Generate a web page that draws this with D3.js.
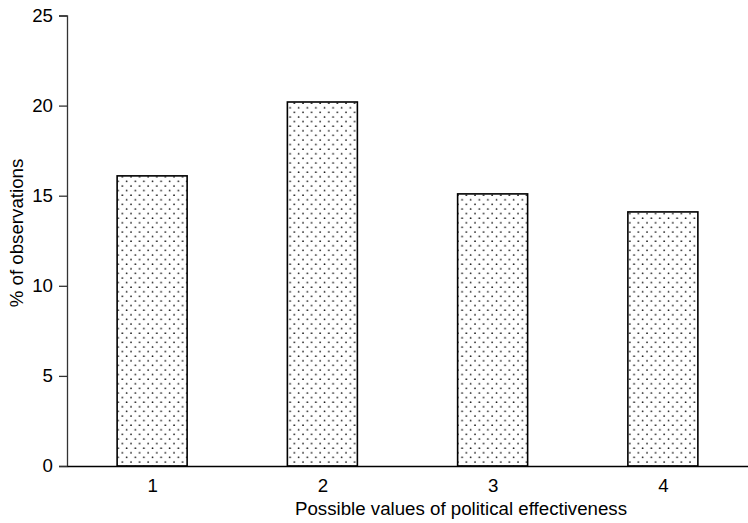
<!DOCTYPE html>
<html>
<head>
<meta charset="utf-8">
<script src="https://cdn.jsdelivr.net/npm/d3@7"></script>
<style>
  body { margin: 0; background: #fff; }
  text { font-family: "Liberation Sans", Arial, sans-serif; fill: #000; }
</style>
</head>
<body>
<div id="chart"></div>
<script>
// values
const categories = [1, 2, 3, 4];
const percents = [16.1, 20.2, 15.1, 14.1];
const yTicks = [0, 5, 10, 15, 20, 25];

const width = 748, height = 523;
const margin = { top: 15.5, right: 0, bottom: 57, left: 67 };
const fontSize = "18.7px";

const svg = d3.select("#chart").append("svg")
  .attr("width", width)
  .attr("height", height);

// dotted fill
const pat = svg.append("defs").append("pattern")
  .attr("id", "dots")
  .attr("patternUnits", "userSpaceOnUse")
  .attr("width", 8.6)
  .attr("height", 9.2);
pat.append("rect").attr("width", 8.6).attr("height", 9.2).attr("fill", "#fff");
pat.append("circle").attr("cx", 2).attr("cy", 2).attr("r", 0.85).attr("fill", "#111");
pat.append("circle").attr("cx", 6.3).attr("cy", 6.6).attr("r", 0.85).attr("fill", "#111");

const x = d3.scalePoint()
  .domain(categories)
  .range([margin.left, width - margin.right])
  .padding(0.5);

const y = d3.scaleLinear()
  .domain([0, 25])
  .range([height - margin.bottom, margin.top]);

const barWidth = 70;

// bars
svg.append("g")
  .selectAll("rect")
  .data(categories)
  .join("rect")
  .attr("x", d => x(d) - barWidth / 2)
  .attr("y", (d, i) => y(percents[i]))
  .attr("width", barWidth)
  .attr("height", (d, i) => y(0) - y(percents[i]))
  .attr("fill", "url(#dots)")
  .attr("stroke", "#000")
  .attr("stroke-width", 1.6);

// y axis
const yAxis = svg.append("g")
  .attr("transform", `translate(${margin.left},0)`)
  .call(d3.axisLeft(y).tickValues(yTicks).tickSize(8).tickPadding(6));
yAxis.select(".domain").attr("stroke", "#333").attr("stroke-width", 1.3);
yAxis.selectAll(".tick line").attr("stroke", "#333").attr("stroke-width", 1.3);
yAxis.selectAll(".tick text").style("font-size", fontSize).attr("font-family", null);

// x axis, no tick marks
const xAxis = svg.append("g")
  .attr("transform", `translate(0,${y(0)})`)
  .call(d3.axisBottom(x).tickSize(0).tickPadding(13));
xAxis.select(".domain").attr("stroke", "#000").attr("stroke-width", 1.5);
xAxis.selectAll(".tick text").style("font-size", fontSize).attr("font-family", null);

// axis titles
svg.append("text")
  .attr("x", 461)
  .attr("y", 515)
  .attr("text-anchor", "middle")
  .style("font-size", fontSize)
  .text("Possible values of political effectiveness");

svg.append("text")
  .attr("transform", "translate(23,233) rotate(-90)")
  .attr("text-anchor", "middle")
  .style("font-size", fontSize)
  .text("% of observations");
</script>
</body>
</html>
